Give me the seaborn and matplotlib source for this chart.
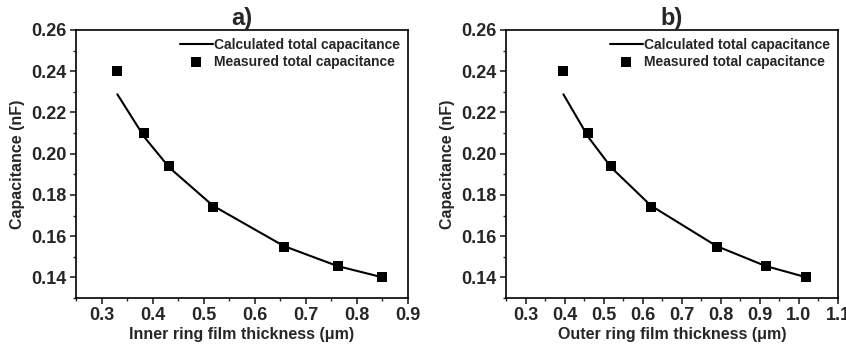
import matplotlib
matplotlib.use("Agg")
import matplotlib.pyplot as plt
from matplotlib.ticker import MultipleLocator
import seaborn as sns
import pandas as pd

sns.set_style("ticks")
plt.rcParams['font.family'] = ['Liberation Sans', 'DejaVu Sans']
plt.rcParams['font.weight'] = 'bold'
plt.rcParams['axes.labelweight'] = 'bold'
plt.rcParams['mathtext.default'] = 'regular'

# Panel a data
inner_x = [0.331, 0.384, 0.433, 0.518, 0.657, 0.762, 0.849]
inner_meas = [0.2401, 0.2098, 0.1942, 0.1743, 0.1549, 0.1457, 0.1400]
inner_calc = [0.2288, 0.2080, 0.1932, 0.1748, 0.1552, 0.1455, 0.1401]

# Panel b data
outer_x = [0.397, 0.461, 0.520, 0.621, 0.789, 0.915, 1.018]
outer_meas = [0.2401, 0.2098, 0.1942, 0.1743, 0.1549, 0.1457, 0.1400]
outer_calc = [0.2288, 0.2080, 0.1932, 0.1748, 0.1552, 0.1455, 0.1401]

titles = ["a)", "b)"]
xlabels = ["Inner ring film thickness (\u03bcm)", "Outer ring film thickness (\u03bcm)"]
ylabel = "Capacitance (nF)"
xlims = [(0.25, 0.9), (0.25, 1.1)]
xticks = [[0.3, 0.4, 0.5, 0.6, 0.7, 0.8, 0.9],
          [0.3, 0.4, 0.5, 0.6, 0.7, 0.8, 0.9, 1.0, 1.1]]
yticks = [0.14, 0.16, 0.18, 0.20, 0.22, 0.24, 0.26]

fig = plt.figure(figsize=(8.46, 3.55), dpi=100)
ax1 = fig.add_axes([76/846, 1-298/355, (408-76)/846, (298-30)/355])
ax2 = fig.add_axes([506/846, 1-298/355, (838-506)/846, (298-30)/355])

datasets = [(inner_x, inner_meas, inner_calc), (outer_x, outer_meas, outer_calc)]
for i, (ax, (xs, meas, calc)) in enumerate(zip([ax1, ax2], datasets)):
    df = pd.DataFrame({"x": xs, "meas": meas, "calc": calc})
    sns.lineplot(data=df, x="x", y="calc", ax=ax, color="black", lw=1.5,
                 label="Calculated total capacitance")
    sns.scatterplot(data=df, x="x", y="meas", ax=ax, color="black", marker="s",
                    s=60, edgecolor="black", linewidth=0,
                    label="Measured total capacitance", zorder=3)
    ax.set_xlim(*xlims[i])
    ax.set_ylim(0.13, 0.26)
    ax.set_xticks(xticks[i])
    ax.set_xticklabels([f"{t:.1f}" for t in xticks[i]])
    ax.set_yticks(yticks)
    ax.set_yticklabels([f"{t:.2f}" for t in yticks])
    ax.xaxis.set_minor_locator(MultipleLocator(0.05))
    ax.yaxis.set_minor_locator(MultipleLocator(0.01))
    ax.tick_params(which="major", direction="out", length=4, width=1.2,
                   labelsize=13, pad=2.5)
    ax.tick_params(which="minor", direction="out", length=2.5, width=1.0)
    for lab in ax.get_xticklabels() + ax.get_yticklabels():
        lab.set_fontweight("bold")
    for sp in ax.spines.values():
        sp.set_visible(True)
        sp.set_linewidth(1.2)
        sp.set_color("black")
    ax.set_xlabel(xlabels[i], fontsize=11.5, fontweight="bold", labelpad=2)
    ax.set_ylabel(ylabel, fontsize=11.5, fontweight="bold", labelpad=5)
    ax.set_title(titles[i], fontsize=17, fontweight="bold", pad=1)
    leg = ax.legend(loc="upper right", frameon=False, fontsize=10,
                    handlelength=2.4, handletextpad=0.1, borderaxespad=0.15,
                    labelspacing=0.25)
    for t in leg.get_texts():
        t.set_fontweight("bold")

fig.savefig("out.png", dpi=100)
